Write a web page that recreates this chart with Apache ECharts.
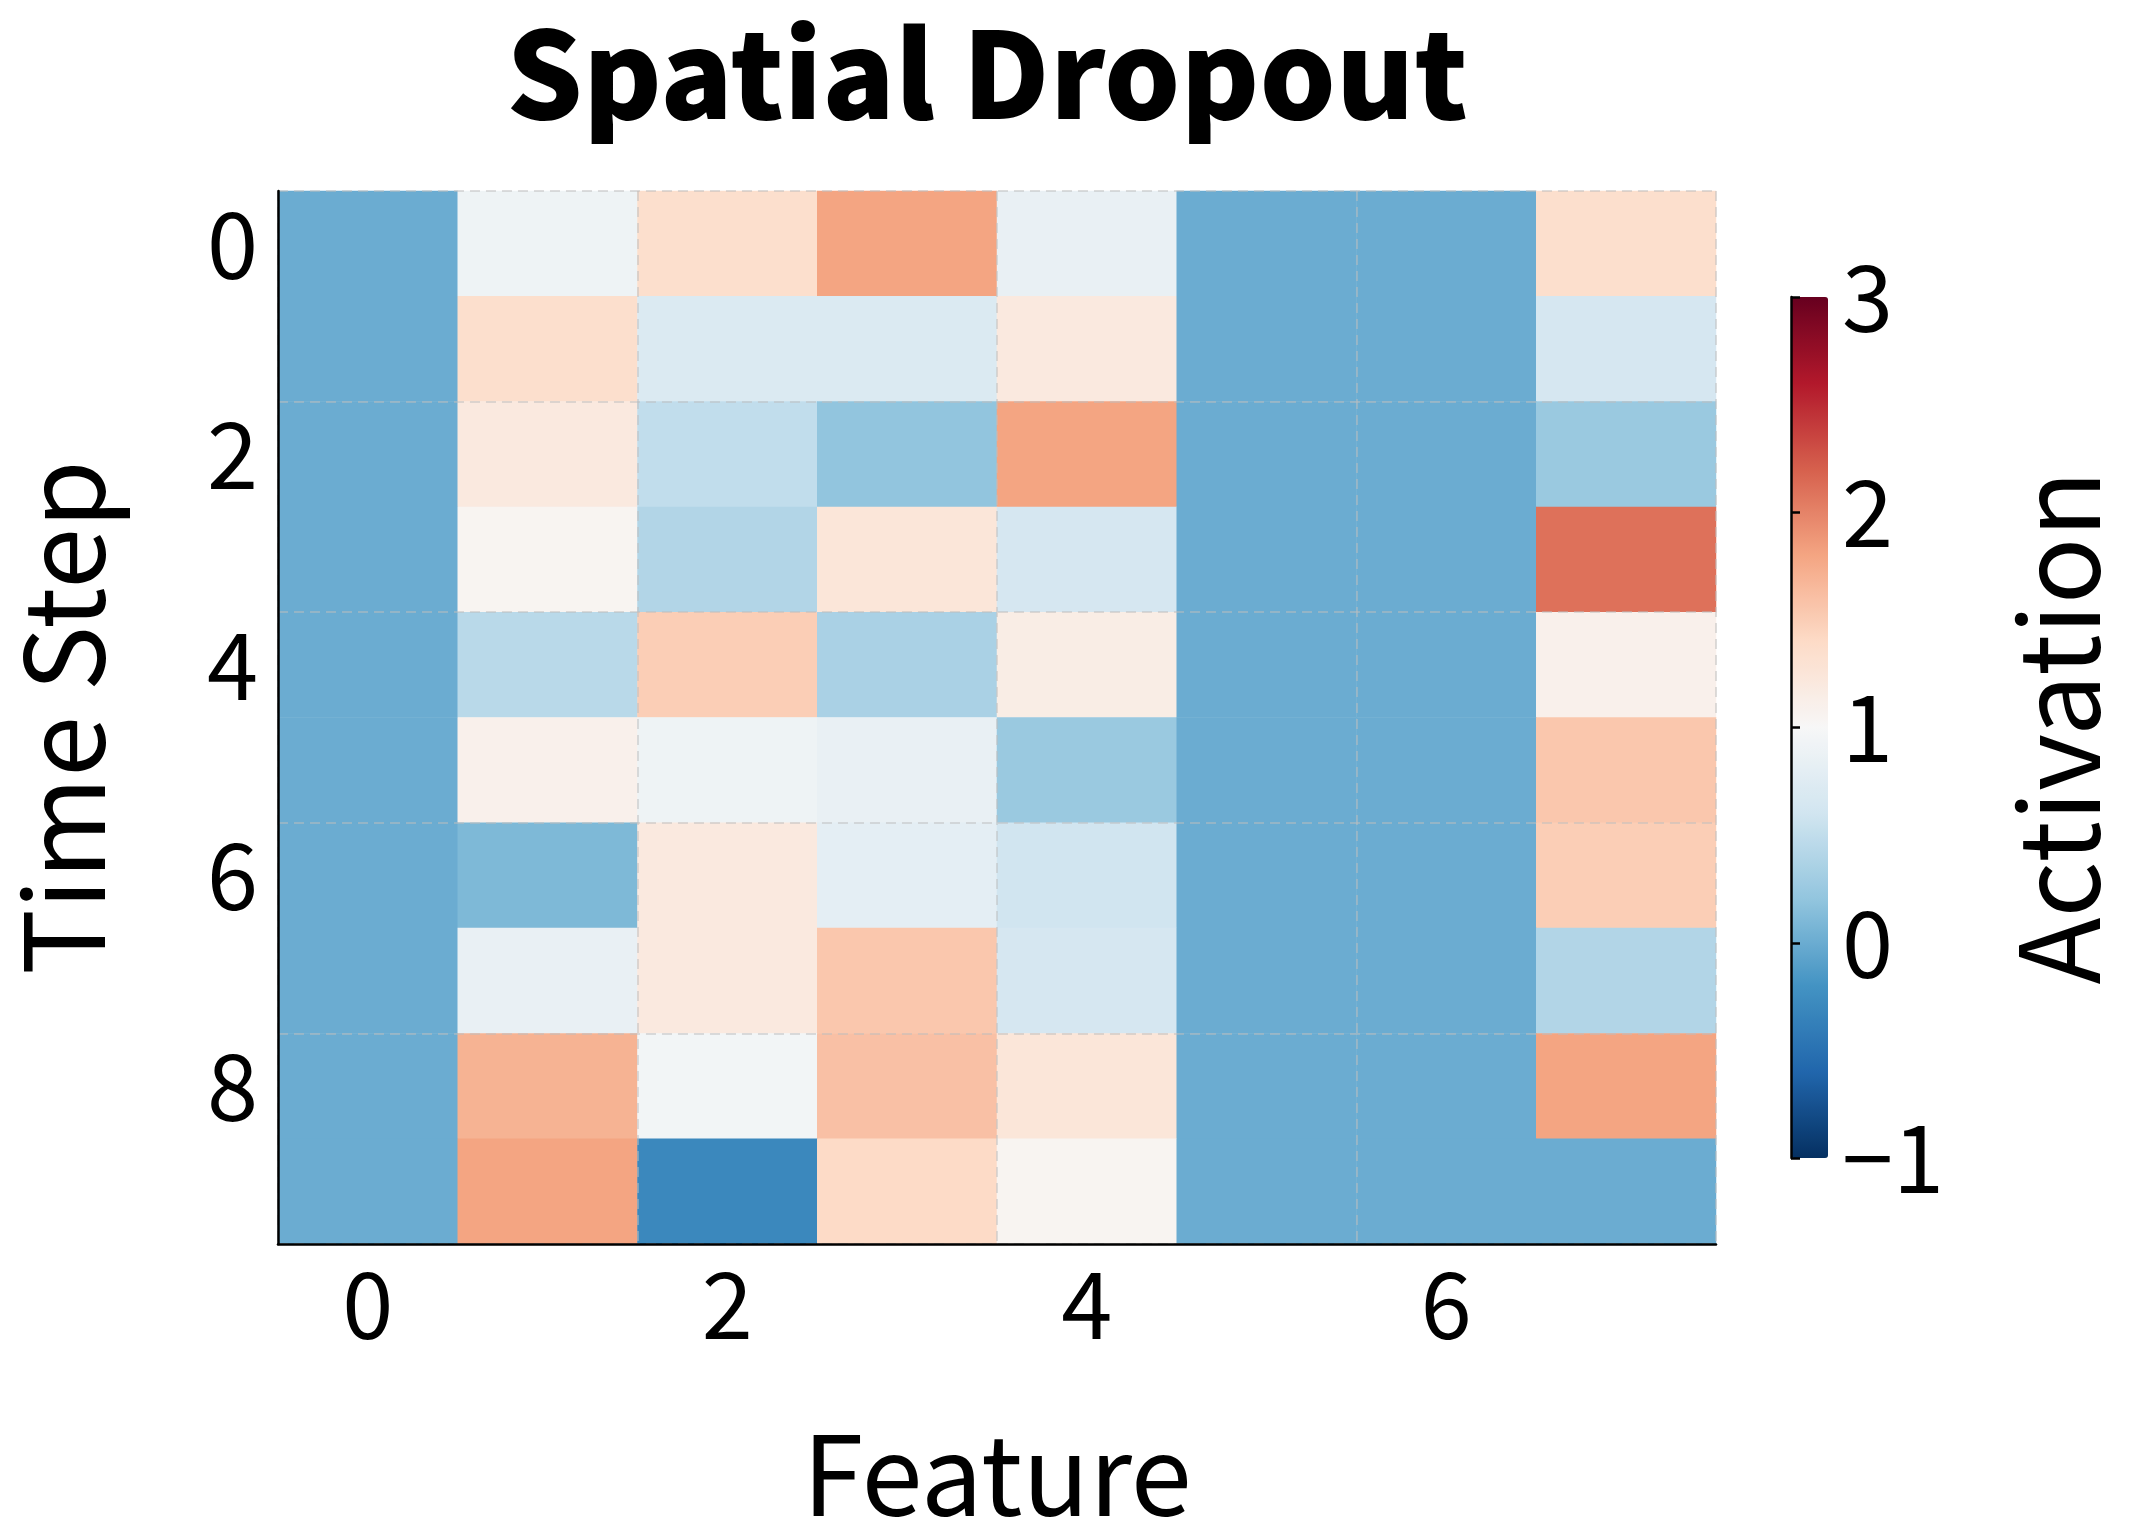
<!DOCTYPE html>
<html><head><meta charset="utf-8">
<script src="https://cdn.jsdelivr.net/npm/echarts@6/dist/echarts.min.js"></script>
<style>html,body{margin:0;background:#fff}#c{width:2131px;height:1534px}</style>
</head><body><div id="c"></div>
<script>
const features = ['0','1','2','3','4','5','6','7'];
const steps = ['0','1','2','3','4','5','6','7','8','9'];
// activation per time step (rows), columns 0,5,6 dropped (=0)
const values = [
  [0, 0.90, 1.35, 1.80, 0.85, 0, 0, 1.35],
  [0, 1.35, 0.70, 0.70, 1.20, 0, 0, 0.65],
  [0, 1.20, 0.50, 0.20, 1.80, 0, 0, 0.25],
  [0, 1.05, 0.40, 1.25, 0.65, 0, 0, 2.10],
  [0, 0.45, 1.50, 0.35, 1.15, 0, 0, 1.10],
  [0, 1.10, 0.90, 0.85, 0.25, 0, 0, 1.55],
  [0, 0.10, 1.20, 0.80, 0.60, 0, 0, 1.50],
  [0, 0.85, 1.20, 1.55, 0.65, 0, 0, 0.40],
  [0, 1.70, 0.95, 1.60, 1.25, 0, 0, 1.80],
  [0, 1.80, -0.30, 1.40, 1.05, 0, 0, 0.00]
];
const cbTicks = [-1, 0, 1, 2, 3];
const rdbu = ['#053061','#2166ac','#4393c3','#92c5de','#d1e5f0','#f7f7f7','#fddbc7','#f4a582','#d6604d','#b2182b','#67001f'];

const data = [];
values.forEach((row, r) => row.forEach((v, c) => data.push([c, r, v])));
const font = 'Noto Sans CJK JP';
const even = (i) => i % 2 === 0;
const grid = {show: true, interval: even, lineStyle: {color: 'rgba(190,190,190,0.5)', type: [10, 6], width: 2}};

const chart = echarts.init(document.getElementById('c'));
chart.setOption({
  textStyle: {fontFamily: font},
  title: {text: 'Spatial Dropout', left: 982, top: 8, textAlign: 'center',
    textStyle: {fontSize: 120, fontWeight: 900, color: '#000', fontFamily: font}},
  grid: [
    {left: 248, top: 191, width: 1468, height: 1075},
    {left: 1791, top: 297, width: 37, height: 861}
  ],
  xAxis: [
    {type: 'category', data: features, gridIndex: 0, z: 5,
     name: 'Feature', nameLocation: 'middle', nameGap: 175,
     nameTextStyle: {fontSize: 110, color: '#000'},
     axisLine: {lineStyle: {color: '#000', width: 2.5}},
     axisTick: {alignWithLabel: true, interval: even, length: 12, lineStyle: {color: '#000', width: 2.5}},
     axisLabel: {interval: even, fontSize: 92, color: '#000', margin: 14},
     splitLine: grid},
    {type: 'value', gridIndex: 1, show: false}
  ],
  yAxis: [
    {type: 'category', data: steps, inverse: true, gridIndex: 0, z: 5,
     name: 'Time Step', nameLocation: 'middle', nameGap: 160, nameRotate: 90,
     nameTextStyle: {fontSize: 110, color: '#000'},
     axisLine: {lineStyle: {color: '#000', width: 2.5}},
     axisTick: {alignWithLabel: true, interval: even, length: 12, lineStyle: {color: '#000', width: 2.5}},
     axisLabel: {interval: even, fontSize: 92, color: '#000', margin: 20},
     splitLine: grid},
    {type: 'value', gridIndex: 1, min: cbTicks[0], max: cbTicks[cbTicks.length - 1], interval: 1,
     position: 'right', z: 5, name: 'Activation', nameLocation: 'middle', nameGap: 175, nameRotate: 90,
     nameTextStyle: {fontSize: 110, color: '#000'},
     axisLine: {show: true, lineStyle: {color: '#000', width: 2.5}},
     axisTick: {show: true, length: 9, lineStyle: {color: '#000', width: 2.5}},
     axisLabel: {fontSize: 92, color: '#000', margin: 14, formatter: v => String(v).replace('-', '\u2212')},
     splitLine: {show: false}}
  ],
  visualMap: {type: 'continuous', min: -1, max: 3, calculable: false, seriesIndex: 0,
    orient: 'vertical', left: 1791, top: 297, itemWidth: 37, itemHeight: 861,
    text: ['', ''], showLabel: false, padding: 0,
    inRange: {color: rdbu}},
  series: [{type: 'heatmap', data: data, xAxisIndex: 0, yAxisIndex: 0, z: 1}]
});
</script></body></html>
